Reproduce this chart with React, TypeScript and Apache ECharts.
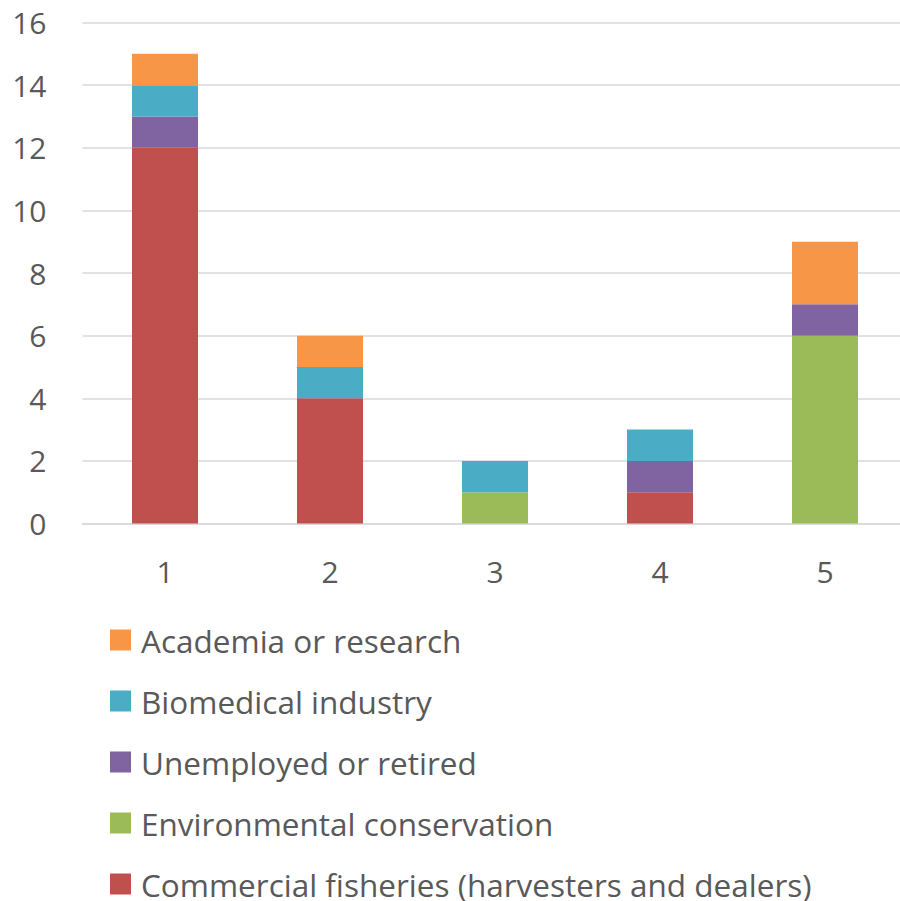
import React, { useEffect, useRef } from "react";
import * as echarts from "echarts";

const categories = ["1", "2", "3", "4", "5"];
const commercialFisheries = [12, 4, 0, 1, 0];
const environmentalConservation = [0, 0, 1, 0, 6];
const unemployedOrRetired = [1, 0, 0, 1, 1];
const biomedicalIndustry = [1, 1, 1, 1, 0];
const academiaOrResearch = [1, 1, 0, 0, 2];

const seriesNames = [
  "Commercial fisheries (harvesters and dealers)",
  "Environmental conservation",
  "Unemployed or retired",
  "Biomedical industry",
  "Academia or research",
];
const seriesColors = ["#C0504D", "#9BBB59", "#8064A2", "#4BACC6", "#F79646"];
const seriesData = [
  commercialFisheries,
  environmentalConservation,
  unemployedOrRetired,
  biomedicalIndustry,
  academiaOrResearch,
];

const FONT = "'Open Sans', sans-serif";
const TEXT_COLOR = "#595959";

export default function App() {
  const ref = useRef<HTMLDivElement>(null);
  useEffect(() => {
    document.body.style.margin = "0";
    document.body.style.overflow = "hidden";
    if (!ref.current) return;
    const chart = echarts.init(ref.current, null, { renderer: "svg" });
    chart.setOption({
      animation: false,
      backgroundColor: "#ffffff",
      grid: { left: 82.5, right: 0.5, top: 22.5, bottom: 901 - 523.5, containLabel: false },
      legend: {
        orient: "vertical",
        left: 105,
        top: 619,
        height: 300,
        itemWidth: 21,
        itemHeight: 21,
        itemGap: 29,
        icon: "rect",
        data: [...seriesNames].reverse(),
        textStyle: { color: TEXT_COLOR, fontSize: 31.5, fontFamily: FONT, padding: [0, 0, 0, 5] },
        selectedMode: false,
      },
      xAxis: {
        type: "category",
        data: categories,
        axisLine: { show: true, lineStyle: { color: "#D9D9D9", width: 1.5 } },
        axisTick: { show: false },
        axisLabel: { color: TEXT_COLOR, fontSize: 30, fontFamily: FONT, margin: 33 },
      },
      yAxis: {
        type: "value",
        min: 0,
        max: 16,
        interval: 2,
        axisLine: { show: false },
        axisTick: { show: false },
        axisLabel: { color: TEXT_COLOR, fontSize: 30, fontFamily: FONT, margin: 36 },
        splitLine: { lineStyle: { color: "#D9D9D9", width: 1.5 } },
      },
      series: seriesNames.map((name, i) => ({
        name,
        type: "bar",
        stack: "total",
        barWidth: 66,
        data: seriesData[i],
        itemStyle: { color: seriesColors[i] },
      })),
    });
    return () => chart.dispose();
  }, []);
  return (
    <div style={{ width: 900, height: 901, overflow: "hidden" }}>
      <div ref={ref} style={{ width: 908, height: 901 }} />
    </div>
  );
}
